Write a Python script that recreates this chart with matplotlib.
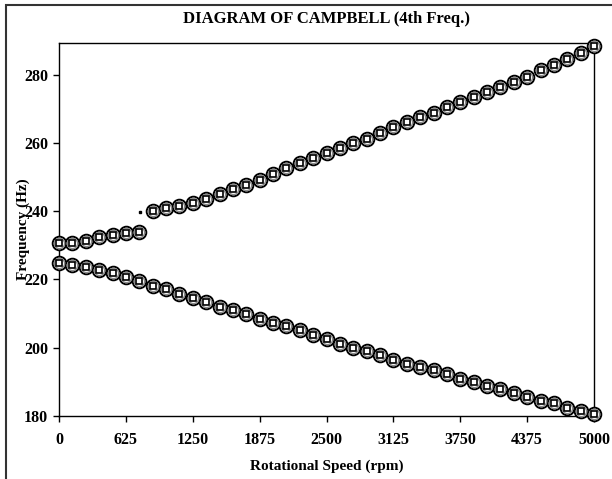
import matplotlib
matplotlib.use("Agg")
import matplotlib.pyplot as plt
from matplotlib.patches import Rectangle

# rotational speed steps (rpm)
speed = [125 * i for i in range(41)]

# backward whirl branch (Hz)
freq_low = [224.7, 224.2, 223.6, 222.8, 221.8, 220.8, 219.6, 218.1, 217.1, 215.7,
            214.4, 213.3, 211.9, 211.0, 209.8, 208.5, 207.2, 206.3, 205.1, 203.6,
            202.6, 201.1, 199.9, 198.9, 197.7, 196.4, 195.3, 194.2, 193.3, 192.1,
            190.8, 189.8, 188.6, 187.9, 186.6, 185.4, 184.4, 183.6, 182.4, 181.5,
            180.5]

# forward whirl branch, split around the jump (Hz)
speed_up1 = [0, 125, 250, 375, 500, 625, 750]
freq_up1 = [230.6, 230.7, 231.3, 232.5, 233.0, 233.5, 233.8]
speed_up2 = [875 + 125 * i for i in range(34)]
freq_up2 = [240.1, 240.8, 241.5, 242.3, 243.5, 245.0, 246.4, 247.7, 249.1, 250.9,
            252.6, 254.0, 255.5, 257.0, 258.4, 259.9, 261.3, 262.8, 264.6, 266.2,
            267.7, 268.9, 270.6, 272.1, 273.5, 275.0, 276.5, 277.9, 279.4, 281.4,
            282.8, 284.5, 286.3, 288.4]

# isolated point at the jump
speed_jump = [760]
freq_jump = [239.6]

xticks = [0, 625, 1250, 1875, 2500, 3125, 3750, 4375, 5000]
yticks = [180, 200, 220, 240, 260, 280]

plt.rcParams['font.family'] = ['Liberation Serif', 'DejaVu Serif']
plt.rcParams['font.weight'] = 'bold'

fig = plt.figure(figsize=(6.12, 4.79), dpi=100)
ax = fig.add_axes([59 / 612, 1 - 415.7 / 479, (594 - 59) / 612, (415.7 - 42.7) / 479])

# outer frame
fig.patches.append(Rectangle((6 / 612, -0.1), 1.1, (479 - 5) / 479 + 0.1,
                             transform=fig.transFigure, fill=False,
                             edgecolor='#333333', linewidth=1.5))


def campbell_markers(x, y):
    ax.plot(x, y, linestyle='none', marker='o', markersize=9.8,
            markerfacecolor='white', markeredgecolor='black',
            markeredgewidth=1.4, clip_on=False, zorder=3)
    ax.plot(x, y, linestyle='none', marker='o', markersize=7.4,
            markerfacecolor='none', markeredgecolor='#888888',
            markeredgewidth=1.0, clip_on=False, zorder=4)
    ax.plot(x, y, linestyle='none', marker='s', markersize=4.2,
            markerfacecolor='white', markeredgecolor='black',
            markeredgewidth=1.2, clip_on=False, zorder=5)


campbell_markers(speed, freq_low)
campbell_markers(speed_up1, freq_up1)
campbell_markers(speed_up2, freq_up2)
ax.plot(speed_jump, freq_jump, linestyle='none', marker='s', markersize=2,
        color='black')

ax.set_xlim(0, 5000)
ax.set_ylim(180, 289.4)
ax.set_xticks(xticks)
ax.set_yticks(yticks)
ax.tick_params(direction='out', length=4, width=1, labelsize=11.5)
ax.tick_params(axis='x', pad=8)
ax.tick_params(axis='y', pad=4)
for lab in ax.get_xticklabels() + ax.get_yticklabels():
    lab.set_fontweight('bold')
for sp in ax.spines.values():
    sp.set_linewidth(1)

ax.set_title('DIAGRAM OF CAMPBELL (4th Freq.)', fontsize=12, fontweight='bold', pad=14)
ax.set_xlabel('Rotational Speed (rpm)', fontsize=11, fontweight='bold', labelpad=8)
ax.set_ylabel('Frequency (Hz)', fontsize=11, fontweight='bold')
ax.yaxis.set_label_coords(-0.055, 0.5)

fig.savefig('out.png', dpi=100)
